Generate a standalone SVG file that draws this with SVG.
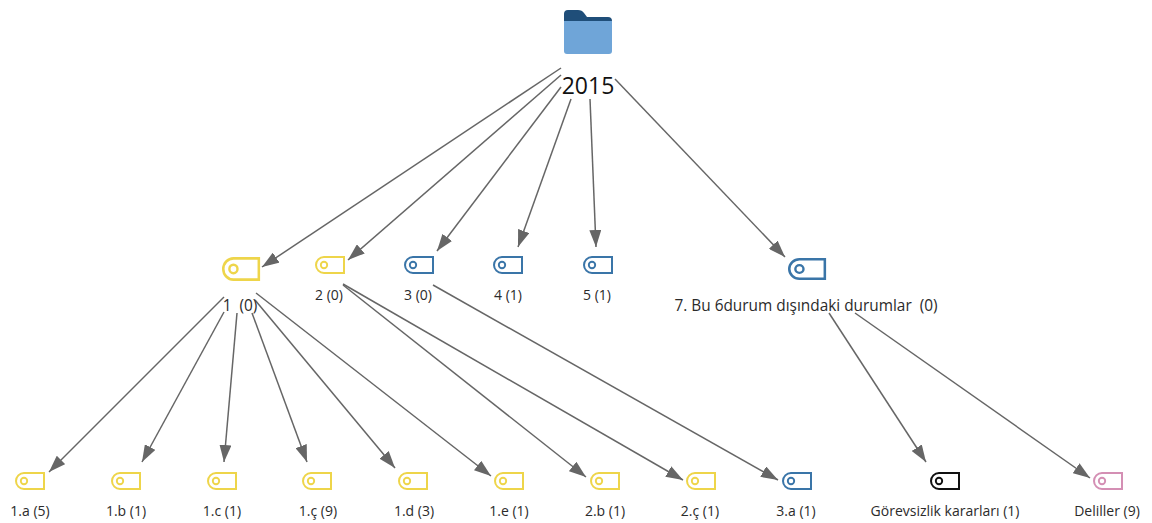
<svg xmlns="http://www.w3.org/2000/svg" width="1152" height="523" viewBox="0 0 1152 523">
<style>
text{font-family:"Open Sans","Noto Sans","Liberation Sans",sans-serif;font-size:14px;fill:#2b2b2b;text-anchor:middle}
.big{font-size:15.400px}
.conn line{stroke:#666;stroke-width:1.5;marker-end:url(#a)}
.tag{fill:#fff;stroke-width:2}
.hole{fill:none;stroke-width:1.900}
.y{stroke:#eed54a}.b{stroke:#3a75a8}.k{stroke:#111}.p{stroke:#d48fb4}
</style>
<defs>
<marker id="a" viewBox="0 0 17 12" markerUnits="userSpaceOnUse" markerWidth="17" markerHeight="12" refX="17" refY="6" orient="auto"><path d="M0 0L17 6L0 12Z" fill="#666"/></marker>
<g id="t"><path class="tag" d="M9 1H29V17H9A8 8 0 0 1 9 1Z"/><circle class="hole" cx="9" cy="9" r="3.200"/></g>
</defs>
<rect width="1152" height="523" fill="#fff"/>
<g class="conn">
<line x1="561" y1="68" x2="262" y2="267"/>
<line x1="561" y1="75" x2="348" y2="260"/>
<line x1="561" y1="87" x2="437" y2="251"/>
<line x1="571" y1="99" x2="518" y2="247"/>
<line x1="590" y1="99" x2="596" y2="247"/>
<line x1="615" y1="79" x2="785" y2="257"/>
<line x1="224" y1="297" x2="49" y2="472"/>
<line x1="224" y1="312" x2="142" y2="462"/>
<line x1="237" y1="313" x2="224" y2="462"/>
<line x1="252" y1="313" x2="307" y2="462"/>
<line x1="255" y1="300" x2="395" y2="468"/>
<line x1="256" y1="293" x2="491" y2="476"/>
<line x1="343" y1="285" x2="586" y2="477"/>
<line x1="343" y1="284" x2="683" y2="480"/>
<line x1="433" y1="285" x2="778" y2="480"/>
<line x1="829" y1="313" x2="926" y2="462"/>
<line x1="855" y1="313" x2="1090" y2="478"/>
</g>
<g id="root">
<path d="M564 20V14Q564 10 568 10H578Q582 10 584 13L587 17H608Q612 17 612 21V24H564Z" fill="#1f4e79"/>
<path d="M564 21H612V51Q612 54 609 54H567Q564 54 564 51Z" fill="#6fa5d8"/>
<text x="588" y="94" style="font-size:23px;fill:#111">2015</text>
</g>
<g id="n1"><use href="#t" class="y" transform="translate(222 257) scale(1.270 1.330)"/><text class="big" x="240" y="311" xml:space="preserve">1  (0)</text></g>
<g id="n2"><use href="#t" class="y" transform="translate(315 256)"/><text x="329" y="300">2 (0)</text></g>
<g id="n3"><use href="#t" class="b" transform="translate(404 256)"/><text x="418" y="300">3 (0)</text></g>
<g id="n4"><use href="#t" class="b" transform="translate(493 256)"/><text x="508" y="300">4 (1)</text></g>
<g id="n5"><use href="#t" class="b" transform="translate(583 256)"/><text x="597" y="300">5 (1)</text></g>
<g id="n7"><use href="#t" class="b" transform="translate(788 258) scale(1.270 1.220)"/><text class="big" x="806" y="311" xml:space="preserve">7. Bu 6durum dışındaki durumlar  (0)</text></g>
<g id="n1a"><use href="#t" class="y" transform="translate(15 472)"/><text x="30" y="516">1.a (5)</text></g>
<g id="n1b"><use href="#t" class="y" transform="translate(111 472)"/><text x="126" y="516">1.b (1)</text></g>
<g id="n1c"><use href="#t" class="y" transform="translate(207 472)"/><text x="222" y="516">1.c (1)</text></g>
<g id="n1cc"><use href="#t" class="y" transform="translate(302 472)"/><text x="318" y="516">1.ç (9)</text></g>
<g id="n1d"><use href="#t" class="y" transform="translate(398 472)"/><text x="414" y="516">1.d (3)</text></g>
<g id="n1e"><use href="#t" class="y" transform="translate(494 472)"/><text x="509" y="516">1.e (1)</text></g>
<g id="n2b"><use href="#t" class="y" transform="translate(590 472)"/><text x="605" y="516">2.b (1)</text></g>
<g id="n2c"><use href="#t" class="y" transform="translate(686 472)"/><text x="700" y="516">2.ç (1)</text></g>
<g id="n3a"><use href="#t" class="b" transform="translate(782 472)"/><text x="796" y="516">3.a (1)</text></g>
<g id="ng"><use href="#t" class="k" transform="translate(930 472)"/><text x="945" y="516">Görevsizlik kararları (1)</text></g>
<g id="nd"><use href="#t" class="p" transform="translate(1093 472)"/><text x="1107" y="516">Deliller (9)</text></g>
</svg>
